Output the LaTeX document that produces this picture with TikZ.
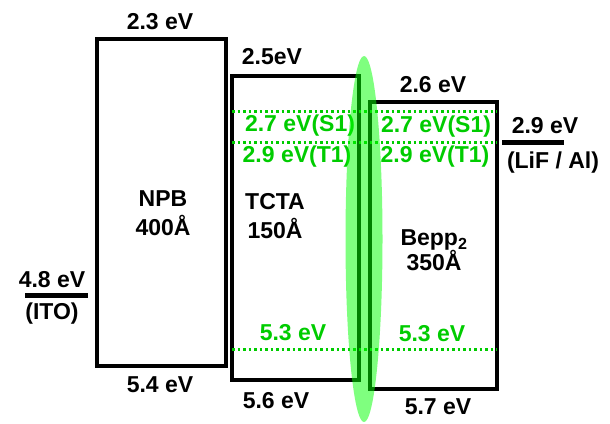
\documentclass[tikz,border=0pt]{standalone}
\usepackage{fontspec}
\setmainfont{Liberation Sans}
\usepackage{xcolor}
\usetikzlibrary{positioning, calc}
\definecolor{levelgreen}{RGB}{0,204,0}
\definecolor{blobgreen}{RGB}{0,255,0}
\tikzset{
  layerbox/.style={draw=black, line width=4.5pt},
  electrode/.style={draw=black, line width=5pt},
  tripletline/.style={draw=levelgreen, line width=3pt, dash pattern=on 2.5pt off 3pt},
  blacklabel/.style={font=\fontsize{23}{27}\selectfont\bfseries, text=black, inner sep=1pt, align=center},
  greenlabel/.style={font=\fontsize{23}{27}\selectfont\bfseries, text=levelgreen, inner sep=1pt},
  zonefill/.style={fill=blobgreen, fill opacity=0.5},
}

\begin{document}
\begin{tikzpicture}[x=1pt, y=-1pt]
  \useasboundingbox (0,0) rectangle (610,423);

  % --- layer boxes ---
  \draw[layerbox] (97,39) rectangle (226,366);
  \draw[layerbox] (232,76) rectangle (359,380);
  \draw[layerbox] (370,102) rectangle (497,389);

  % --- electrodes ---
  \coordinate (itoL) at (25,295);
  \coordinate (itoR) at (88,295);
  \draw[electrode] (itoL) -- (itoR);
  \coordinate (lifL) at (502,142);
  \coordinate (lifR) at (564,142);
  \draw[electrode] (lifL) -- (lifR);

  % --- green levels ---
  \coordinate (s1L) at (232,111);  \coordinate (s1R) at (497,111);
  \coordinate (t1L) at (232,142);  \coordinate (t1R) at (497,142);
  \coordinate (hoL) at (232,349);  \coordinate (hoR) at (497,349);
  \draw[tripletline] (s1L) -- (s1R);
  \draw[tripletline] (t1L) -- (t1R);
  \draw[tripletline] (hoL) -- (hoR);

  % --- labels ---
  \node[blacklabel] (npbtop) at (160,22) {2.3 eV};
  \node[blacklabel] (npbname) at (163,213) {NPB\\[2pt]400Å};
  \node[blacklabel] (npbbot) at (160,385) {5.4 eV};

  \node[blacklabel] (tctatop) at (272,57) {2.5eV};
  \node[blacklabel] (tctaname) at (275,216) {TCTA\\[2pt]150Å};
  \node[blacklabel] (tctabot) at (276,401) {5.6 eV};

  \node[blacklabel] (bepptop) at (433,85) {2.6 eV};
  \node[blacklabel] (beppname) at (434,250) {Bepp\textsubscript{2}\\[-2pt]350Å};
  \node[blacklabel] (beppbot) at (438,407) {5.7 eV};

  \node[blacklabel, above=6pt of itoL, xshift=27pt] (itoval) {4.8 eV};
  \node[blacklabel, below=7pt of itoL, xshift=27pt] (itoname) {(ITO)};
  \node[blacklabel, above=7pt of lifR, xshift=-19pt] (lifval) {2.9 eV};
  \node[blacklabel, below=9pt of lifR, xshift=-11pt] (lifname) {(LiF / Al)};

  \node[greenlabel] (tctas1) at (300,126) {2.7 eV(S1)};
  \node[greenlabel] (tctat1) at (297,157) {2.9 eV(T1)};
  \node[greenlabel] (tctaho) at (293,333) {5.3 eV};
  \node[greenlabel] (bepps1) at (436,127) {2.7 eV(S1)};
  \node[greenlabel] (beppt1) at (435,157) {2.9 eV(T1)};
  \node[greenlabel] (beppho) at (432,334) {5.3 eV};

  % --- recombination zone ---
  \fill[zonefill] (364,239) ellipse (18.5 and 183);

\end{tikzpicture}
\end{document}
